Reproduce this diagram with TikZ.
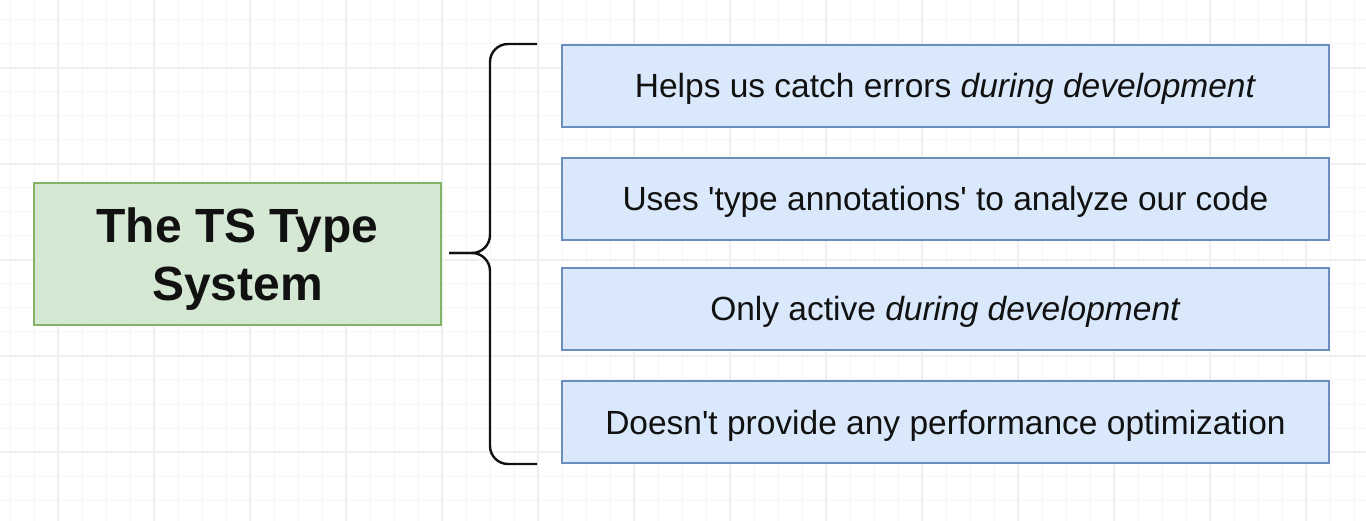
\documentclass[tikz,border=0pt]{standalone}
\usepackage{fontspec}
\setmainfont{Liberation Sans}[Ligatures=TeXOff]
\definecolor{gminor}{HTML}{F6F6F6}
\definecolor{gmajor}{HTML}{EFEFEF}
\definecolor{gfill}{HTML}{D5E8D4}
\definecolor{gline}{HTML}{82B366}
\definecolor{bfill}{HTML}{DAE8FC}
\definecolor{bline}{HTML}{6C8EBF}
\definecolor{ink}{HTML}{111111}
\begin{document}
\begin{tikzpicture}[x=1pt,y=-1pt,
  minorgrid/.style={gminor,line width=1pt},
  majorgrid/.style={gmajor,line width=1.2pt},
  titlebox/.style={draw=gline,fill=gfill,line width=2pt,minimum width=407,minimum height=142,inner sep=0},
  titletext/.style={inner sep=0,align=center,text=ink,font=\fontsize{48}{58}\selectfont\bfseries},
  itembox/.style={draw=bline,fill=bfill,line width=2pt,minimum width=767,minimum height=82,inner sep=0,align=center,text=ink,font=\fontsize{33.5}{40}\selectfont,text height=24pt,text depth=0pt},
  bracestyle/.style={draw=ink,line width=2.4pt,rounded corners=18pt}]
\useasboundingbox (0,0) rectangle (1366,521);
\fill[white] (0,0) rectangle (1366,521);
\foreach \x in {10,34,...,1366} \draw[minorgrid] (\x,0) -- (\x,521);
\foreach \y in {20,44,...,521} \draw[minorgrid] (0,\y) -- (1366,\y);
\foreach \x in {58,154,...,1366} \draw[majorgrid] (\x,0) -- (\x,521);
\foreach \y in {68,164,...,521} \draw[majorgrid] (0,\y) -- (1366,\y);

\node[titlebox] (ts) at (237.5,254) {};
\node[titletext] (tstext) at (237.5,259.5) {The TS Type\\System};
\node[itembox] (i1) at (945.5,86) {Helps us catch errors \textit{during development}};
\node[itembox] (i2) at (945.5,199) {Uses 'type annotations' to analyze our code};
\node[itembox] (i3) at (945.5,309) {Only active \textit{during development}};
\node[itembox] (i4) at (945.5,422) {Doesn't provide any performance optimization};

\coordinate (bt) at (537,44);
\coordinate (bb) at (537,464);
\coordinate (bm) at (449,253);
\draw[bracestyle] (bt) -- (490,44) -- (490,253) -- (bm);
\draw[bracestyle] (bm) -- (490,253) -- (490,464) -- (bb);
\end{tikzpicture}
\end{document}
